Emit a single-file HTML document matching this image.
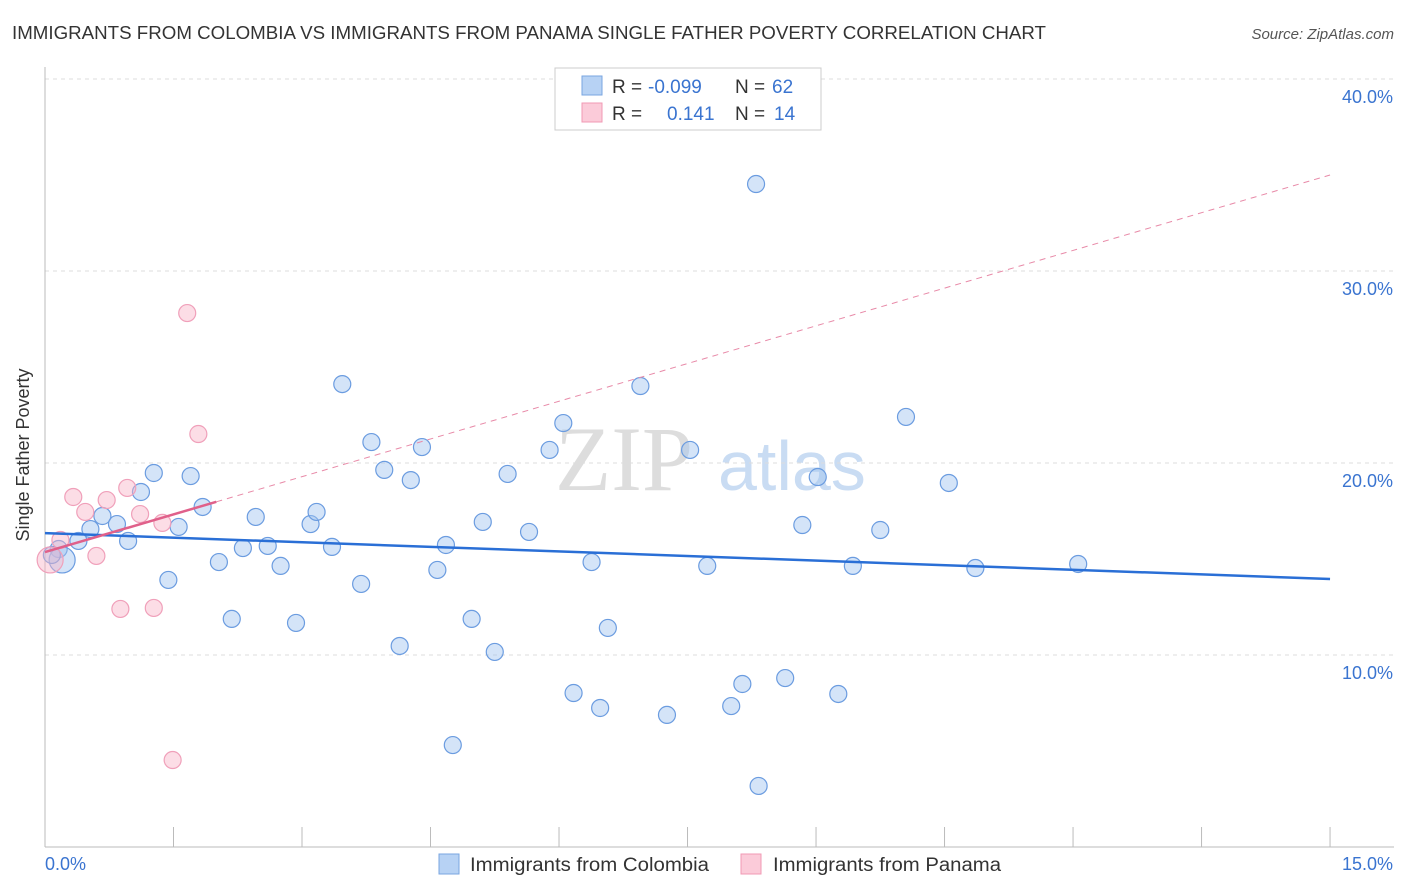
<!DOCTYPE html>
<html><head><meta charset="utf-8"><style>
body{margin:0;background:#fff;font-family:"Liberation Sans",sans-serif}
svg{display:block}
</style></head><body>
<svg id="chart" width="1406" height="892" xmlns="http://www.w3.org/2000/svg">
<text x="12" y="39" font-size="18" fill="#333" textLength="1034" lengthAdjust="spacingAndGlyphs">IMMIGRANTS FROM COLOMBIA VS IMMIGRANTS FROM PANAMA SINGLE FATHER POVERTY CORRELATION CHART</text>
<text x="1394" y="39" font-size="15" fill="#555" font-style="italic" text-anchor="end">Source: ZipAtlas.com</text>
<text x="29" y="455" font-size="18" fill="#333" text-anchor="middle" transform="rotate(-90 29 455)">Single Father Poverty</text>
<text x="555" y="490" font-size="92" fill="#ddd" font-family="Liberation Serif,serif">ZIP</text>
<text x="718" y="490" font-size="70" fill="#c9dcf3">atlas</text>
<g id="grid"></g><g id="marks"></g>
<g>
<rect x="555" y="68" width="266" height="62" fill="#fff" stroke="#ccc"/>
<rect x="582" y="76" width="20" height="19" fill="#b7d2f4" stroke="#7aa6e0"/>
<rect x="582" y="103" width="20" height="19" fill="#fbcbd9" stroke="#f09ab4"/>
<text x="612" y="93" font-size="19" fill="#333">R =</text><text x="648" y="93" font-size="19" fill="#3a74d0">-0.099</text>
<text x="735" y="93" font-size="19" fill="#333">N =</text><text x="772" y="93" font-size="19" fill="#3a74d0">62</text>
<text x="612" y="120" font-size="19" fill="#333">R =</text><text x="667" y="120" font-size="19" fill="#3a74d0">0.141</text>
<text x="735" y="120" font-size="19" fill="#333">N =</text><text x="774" y="120" font-size="19" fill="#3a74d0">14</text>
</g>
<g>
<rect x="439" y="854" width="20" height="20" fill="#b7d2f4" stroke="#7aa6e0"/>
<text x="470" y="871" font-size="19" fill="#333" textLength="239" lengthAdjust="spacingAndGlyphs">Immigrants from Colombia</text>
<rect x="741" y="854" width="20" height="20" fill="#fbcbd9" stroke="#f09ab4"/>
<text x="773" y="871" font-size="19" fill="#333" textLength="228" lengthAdjust="spacingAndGlyphs">Immigrants from Panama</text>
</g>
</svg>
<script>
const blueX=[1.27,1.70,1.12,1.84,0.67,0.84,0.53,1.56,0.39,0.97,0.16,0.20,0.08,1.44,2.03,2.18,2.31,2.46,2.60,2.75,2.93,3.10,3.17,3.35,3.47,3.69,3.81,3.96,4.14,4.27,4.40,4.58,4.68,4.76,4.98,5.11,5.25,5.40,5.65,5.89,6.05,6.17,6.38,6.48,6.57,6.95,7.26,7.53,7.73,8.01,8.14,8.30,8.33,8.64,8.84,9.02,9.26,9.43,9.75,10.05,10.55,10.86,12.06];
const blueY=[19.48,19.32,18.49,17.71,17.24,16.82,16.56,16.67,15.94,15.94,15.52,14.95,15.21,13.91,14.84,11.88,15.57,17.19,15.68,14.64,11.67,16.82,17.45,15.63,24.11,13.70,21.09,19.64,10.47,19.11,20.83,14.43,15.73,5.31,11.88,16.93,10.16,19.43,16.41,20.68,22.08,8.02,14.84,7.24,11.41,24.01,6.88,20.68,14.64,7.34,8.49,34.53,3.18,8.80,16.77,19.27,7.97,14.64,16.51,22.40,18.96,14.53,14.74];
const pinkX=[1.66,1.79,0.33,0.96,0.72,0.47,1.11,1.37,0.18,0.60,0.06,0.88,1.27,1.49];
const pinkY=[27.81,21.51,18.23,18.70,18.07,17.45,17.34,16.88,15.99,15.16,14.95,12.40,12.45,4.53];
const blueTrend=[16.35,13.96];
const pinkTrend=[15.36,35.0];
const yTicks=[10,20,30,40];
const xTickLabels=["0.0%","15.0%"];
const X=v=>45+v*85.67, Y=v=>847-v*19.2;
const NS="http://www.w3.org/2000/svg";
function mk(tag,attrs,parent){const e=document.createElementNS(NS,tag);for(const k in attrs)e.setAttribute(k,attrs[k]);parent.appendChild(e);return e;}
const grid=document.getElementById('grid'),marks=document.getElementById('marks');
yTicks.forEach(t=>{
 const l=mk('line',{x1:45,x2:1394,y1:Y(t),y2:Y(t),stroke:'#ddd','stroke-dasharray':'4,4'},grid);
 
 
 const tx=mk('text',{x:1393,y:Y(t)+24,'font-size':18,fill:'#3a74d0','text-anchor':'end'},grid);
 tx.textContent=t.toFixed(1)+'%';
 
 
});
const ax=mk('line',{x1:45,x2:45,y1:67,y2:847,stroke:'#bbb'},grid);


const bx=mk('line',{x1:45,x2:1394,y1:847,y2:847,stroke:'#bbb'},grid);


for(let i=1;i<=10;i++){const t=mk('line',{x1:X(i*1.5),x2:X(i*1.5),y1:827,y2:847,stroke:'#bbb'},grid);
 
 }
[[0,'start'],[15,'end']].forEach((p,i)=>{const t=mk('text',{x:i?1393:45,y:870,'font-size':18,fill:'#3a74d0','text-anchor':p[1]},grid);t.textContent=xTickLabels[i];
 
 });
blueX.forEach((x,i)=>{const c=mk('circle',{cx:X(x),cy:Y(blueY[i]),r:i==11?13:8.5,fill:'rgba(160,195,240,0.45)',stroke:'#6b9ce0','stroke-width':1.2},marks);
 
 });
pinkX.forEach((x,i)=>{const c=mk('circle',{cx:X(x),cy:Y(pinkY[i]),r:i==10?13:8.5,fill:'rgba(248,180,200,0.45)',stroke:'#f0a0ba','stroke-width':1.2},marks);
 
 });
const bl=mk('line',{x1:X(0),y1:Y(blueTrend[0]),x2:X(15),y2:Y(blueTrend[1]),stroke:'#2a6fd6','stroke-width':2.5},marks);


const py=x=>pinkTrend[0]+(pinkTrend[1]-pinkTrend[0])*x/15;
const pd=mk('line',{x1:X(2),y1:Y(py(2)),x2:X(15),y2:Y(py(15)),stroke:'#e88aa8','stroke-width':1,'stroke-dasharray':'6,5'},marks);


const pl=mk('line',{x1:X(0),y1:Y(py(0)),x2:X(2),y2:Y(py(2)),stroke:'#e0608a','stroke-width':2.5},marks);


</script>
</body></html>
